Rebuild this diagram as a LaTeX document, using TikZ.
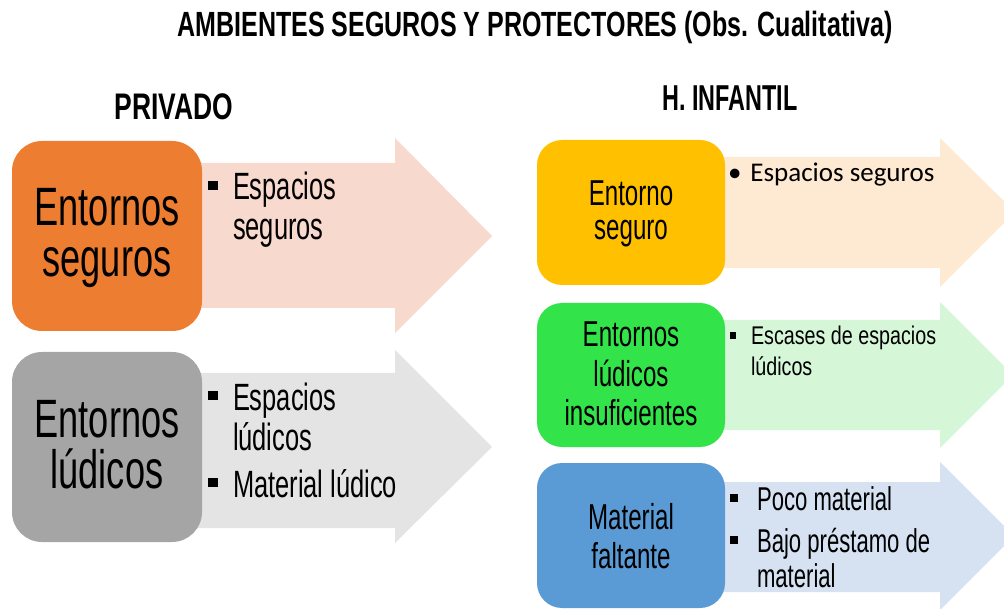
\documentclass[tikz,border=0pt]{standalone}
\usepackage{fontspec}
\newfontfamily\agency[FakeStretch=0.67]{Liberation Sans}
\newfontfamily\agencyW[FakeStretch=0.77]{Liberation Sans}
\newfontfamily\agencyB[FakeStretch=0.715]{Liberation Sans Bold}
\newfontfamily\agencyBn[FakeStretch=0.65]{Liberation Sans Bold}
\newfontfamily\calib{Carlito}
\definecolor{cOrange}{HTML}{ED7D31}
\definecolor{aOrange}{HTML}{F8D9CE}
\definecolor{cGray}{HTML}{A5A5A5}
\definecolor{aGray}{HTML}{E4E4E4}
\definecolor{cYellow}{HTML}{FFC000}
\definecolor{aYellow}{HTML}{FEE9D3}
\definecolor{cGreen}{HTML}{33E34A}
\definecolor{aGreen}{HTML}{D5F7D8}
\definecolor{cBlue}{HTML}{5B9BD5}
\definecolor{aBlue}{HTML}{D6E2F2}
\newcommand\sqb{\rule[0.25em]{0.25em}{0.25em}}
\newcommand\bitem[2]{\par\hangindent=#1\hangafter=1\noindent\makebox[#1][l]{\sqb}#2\par}
\newcommand\nl{\hfil\break}
\tikzset{
  txt/.style={inner sep=0pt, outer sep=0pt},
  catbox/.style={rounded corners=#1, draw=none},
  catbox/.default=28pt,
}
\begin{document}
\begin{tikzpicture}[x=1pt,y=-1pt]
\useasboundingbox (0,0) rectangle (1004,609);

% title and headers
\node[txt, anchor=base] (title) at (535,37) {\agencyB\fontsize{35}{35}\selectfont AMBIENTES SEGUROS Y PROTECTORES (Obs. Cualitativa)};
\node[txt, anchor=base] (privado) at (174,120) {\agencyB\fontsize{37}{37}\selectfont PRIVADO};
\node[txt, anchor=base] (infantil) at (730,111) {\agencyBn\fontsize{36}{36}\selectfont H. INFANTIL};

% ---------- left column ----------
\fill[aOrange] (195,163) -- (395,163) -- (395,138) -- (492,236) -- (395,333) -- (395,308) -- (195,308) -- cycle;
\fill[cOrange, catbox=30pt] (12,141) rectangle (202,331);
\node[txt, anchor=base] (seg) at (107,226) {\begin{minipage}[t]{190pt}\centering\agency\fontsize{54}{51}\selectfont Entornos\\seguros\end{minipage}};
\node[txt, anchor=base west] (segl) at (208,200) {\begin{minipage}[t]{190pt}\raggedright\agency\fontsize{38}{40}\selectfont
\bitem{25pt}{Espacios\nl seguros}\end{minipage}};

\fill[aGray] (195,373) -- (395,373) -- (395,350) -- (492,447) -- (395,543) -- (395,528) -- (195,528) -- cycle;
\fill[cGray, catbox=30pt] (12,352) rectangle (202,542);
\node[txt, anchor=base] (lud) at (107,438) {\begin{minipage}[t]{190pt}\centering\agency\fontsize{54}{51}\selectfont Entornos\\lúdicos\end{minipage}};
\node[txt, anchor=base west] (ludl) at (208,410) {\begin{minipage}[t]{230pt}\raggedright\agency\fontsize{38}{40}\selectfont\setlength\parskip{7pt}
\bitem{25pt}{Espacios\nl lúdicos}
\bitem{25pt}{Material lúdico}\end{minipage}};

% ---------- right column ----------
\fill[aYellow] (718,157) -- (940,157) -- (940,138) -- (1015,212) -- (940,287) -- (940,268) -- (718,268) -- cycle;
\fill[cYellow, catbox=25pt] (537,140) rectangle (725,285);
\node[txt, anchor=base] (ent) at (631,206) {\begin{minipage}[t]{188pt}\centering\agency\fontsize{36}{34}\selectfont Entorno\\seguro\end{minipage}};
\node[txt, anchor=base west] (entl) at (728,182) {\calib\fontsize{27}{30}\selectfont\textbullet\hspace{9pt}Espacios seguros};

\fill[aGreen] (718,320) -- (940,320) -- (940,302) -- (1013,375) -- (940,448) -- (940,430) -- (718,430) -- cycle;
\fill[cGreen, catbox=25pt] (537,303) rectangle (725,447);
\node[txt, anchor=base] (ins) at (631,347) {\begin{minipage}[t]{188pt}\centering\agency\fontsize{36}{39.5}\selectfont Entornos\\lúdicos\\insuficientes\end{minipage}};
\node[txt, anchor=base west] (insl) at (730,345) {\begin{minipage}[t]{260pt}\raggedright\agencyW\fontsize{25.6}{31}\selectfont
\bitem{21pt}{Escases de espacios\nl lúdicos}\end{minipage}};

\fill[aBlue] (718,482) -- (940,482) -- (940,462) -- (1014,536) -- (940,610) -- (940,592) -- (718,592) -- cycle;
\fill[cBlue, catbox=25pt] (537,463) rectangle (725,608);
\node[txt, anchor=base] (fal) at (631,529) {\begin{minipage}[t]{188pt}\centering\agency\fontsize{36}{39}\selectfont Material\\faltante\end{minipage}};
\node[txt, anchor=base west] (fall) at (730,510) {\begin{minipage}[t]{270pt}\raggedright\agency\fontsize{33}{35}\selectfont\setlength\parskip{7pt}
\bitem{27pt}{Poco material}
\bitem{27pt}{Bajo préstamo de\nl material}\end{minipage}};
\end{tikzpicture}
\end{document}
